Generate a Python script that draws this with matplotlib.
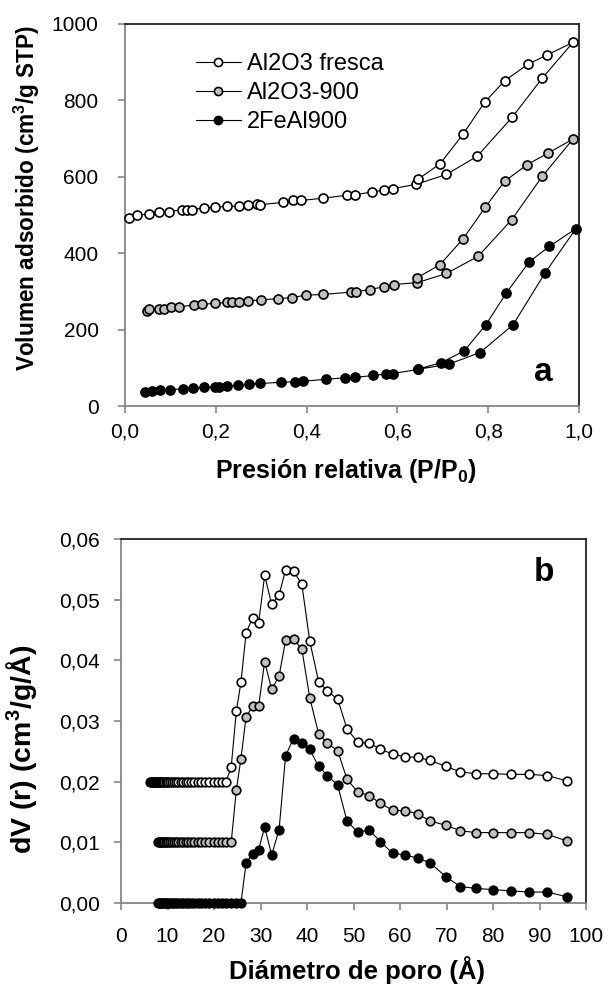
import numpy as np
import matplotlib
matplotlib.use('Agg')
import matplotlib.pyplot as plt
from matplotlib.ticker import FuncFormatter

plt.rcParams['font.family'] = ['Liberation Sans', 'DejaVu Sans']
plt.rcParams['mathtext.fontset'] = 'custom'
plt.rcParams['mathtext.rm'] = 'Liberation Sans'
plt.rcParams['mathtext.bf'] = 'Liberation Sans:bold'

# --- isotherms (a): adsorption branch followed by desorption branch ---
p_fresca = [0.009, 0.026, 0.053, 0.075, 0.098, 0.126, 0.137, 0.148, 0.174, 0.198,
            0.224, 0.251, 0.272, 0.291, 0.297, 0.349, 0.371, 0.388, 0.437, 0.490,
            0.506, 0.543, 0.570, 0.590, 0.640, 0.708, 0.776, 0.853, 0.919, 0.987,
            0.930, 0.888, 0.836, 0.792, 0.745, 0.694, 0.646]
v_fresca = [492, 499, 503, 507, 509, 514, 513, 514, 519, 520,
            523, 523, 527, 529, 527, 533, 538, 538, 544, 552,
            553, 560, 565, 569, 580, 606, 654, 756, 858, 952,
            919, 895, 851, 795, 712, 634, 594]

p_900 = [0.049, 0.053, 0.075, 0.086, 0.101, 0.120, 0.152, 0.170, 0.198, 0.225,
         0.235, 0.251, 0.272, 0.299, 0.338, 0.367, 0.398, 0.436, 0.497, 0.509,
         0.539, 0.570, 0.593, 0.644, 0.708, 0.778, 0.852, 0.919, 0.987,
         0.932, 0.886, 0.836, 0.794, 0.745, 0.694, 0.644]
v_900 = [249, 253, 255, 255, 258, 260, 264, 266, 269, 271,
         271, 272, 275, 278, 281, 284, 290, 292, 298, 299,
         305, 312, 318, 323, 347, 392, 488, 601, 699,
         662, 632, 588, 521, 438, 370, 336]

p_fe = [0.044, 0.059, 0.077, 0.099, 0.128, 0.150, 0.174, 0.198, 0.206, 0.224,
        0.250, 0.274, 0.297, 0.343, 0.374, 0.393, 0.443, 0.485, 0.507, 0.547,
        0.576, 0.590, 0.646, 0.714, 0.782, 0.855, 0.925, 0.993,
        0.935, 0.890, 0.840, 0.795, 0.747, 0.695, 0.646]
v_fe = [36, 39, 41, 43, 45, 46, 49, 50, 50, 52,
        54, 57, 59, 62, 64, 65, 70, 74, 75, 80,
        84, 85, 96, 110, 140, 213, 348, 464,
        418, 377, 296, 213, 144, 113, 97]

# --- pore size distribution (b) ---
nan = np.nan
diam = [6.2, 6.4, 6.6, 6.8, 7.0, 7.2, 7.4, 7.6, 7.8, 8.0,
        8.2, 8.4, 8.6, 8.8, 9.0, 9.3, 9.6, 9.9, 10.2, 10.6,
        11.0, 11.4, 11.8, 12.3, 12.8, 13.3, 13.9, 14.5, 15.1, 15.8,
        16.5, 17.3, 18.1, 19.0, 19.9, 20.8, 21.7, 22.6,
        23.7, 24.8, 25.8, 26.9, 28.3, 29.6, 30.9, 32.4, 34.0, 35.4,
        37.1, 38.9, 40.6, 42.5, 44.4, 46.6, 48.6, 50.9, 53.4, 55.8,
        58.4, 61.1, 63.8, 66.5, 69.9, 73.0, 76.4, 80.0, 83.8, 87.7,
        91.7, 96.0]
dv_fresca = [0.020, 0.020, 0.020, 0.020, 0.020, 0.020, 0.020, 0.020, 0.020, 0.020,
             0.020, 0.020, 0.020, 0.020, 0.020, 0.020, 0.020, 0.020, 0.020, 0.020,
             0.020, 0.020, 0.020, 0.020, 0.020, 0.020, 0.020, 0.020, 0.020, 0.020,
             0.020, 0.020, 0.020, 0.020, 0.020, 0.020, 0.020, 0.020,
             0.0224, 0.0316, 0.0364, 0.0445, 0.0470, 0.0462, 0.0540, 0.0492, 0.0508, 0.0549,
             0.0547, 0.0525, 0.0431, 0.0365, 0.0349, 0.0336, 0.0287, 0.0265, 0.0263, 0.0254,
             0.0245, 0.0241, 0.0240, 0.0235, 0.0225, 0.0216, 0.0213, 0.0213, 0.0212, 0.0212,
             0.0210, 0.0201]
dv_900 = [nan, nan, nan, nan, nan, nan, nan, nan, nan, 0.010,
          0.010, 0.010, 0.010, 0.010, 0.010, 0.010, 0.010, 0.010, 0.010, 0.010,
          0.010, 0.010, 0.010, 0.010, 0.010, 0.010, 0.010, 0.010, 0.010, 0.010,
          0.010, 0.010, 0.010, 0.010, 0.010, 0.010, 0.010, 0.010,
          0.010, 0.0186, 0.0238, 0.0307, 0.0324, 0.0324, 0.0398, 0.0352, 0.0374, 0.0433,
          0.0435, 0.0418, 0.0338, 0.0279, 0.0263, 0.0251, 0.0204, 0.0183, 0.0177, 0.0164,
          0.0153, 0.0152, 0.0147, 0.0135, 0.0128, 0.0119, 0.0116, 0.0116, 0.0116, 0.0116,
          0.0113, 0.0102]
dv_fe = [nan, nan, nan, nan, nan, nan, nan, nan, nan, 0.0,
         0.0, 0.0, 0.0, 0.0, 0.0, 0.0, 0.0, 0.0, 0.0, 0.0,
         0.0, 0.0, 0.0, 0.0, 0.0, 0.0, 0.0, 0.0, 0.0, 0.0,
         0.0, 0.0, 0.0, 0.0, 0.0, 0.0, 0.0, 0.0,
         0.0, 0.0, 0.0, 0.0066, 0.0081, 0.0088, 0.0125, 0.0079, 0.0121, 0.0243,
         0.0271, 0.0264, 0.0253, 0.0225, 0.0210, 0.0194, 0.0135, 0.0117, 0.0120, 0.0101,
         0.0082, 0.0079, 0.0074, 0.0066, 0.0043, 0.0027, 0.0024, 0.0022, 0.0020, 0.0018,
         0.0018, 0.0010]

labels = ['Al2O3 fresca', 'Al2O3-900', '2FeAl900']
fills = ['white', '#c0c0c0', 'black']

axis_gray = '#868686'


def style_axes(ax, xpad, ypad):
    for side in ['left', 'bottom']:
        ax.spines[side].set_color(axis_gray)
        ax.spines[side].set_linewidth(1.3)
    for side in ['top', 'right']:
        ax.spines[side].set_color('#222222')
        ax.spines[side].set_linewidth(1.3)
    ax.tick_params(direction='out', length=5, width=1.2, color=axis_gray,
                   labelsize=15, labelcolor='black')
    ax.tick_params(axis='x', pad=xpad)
    ax.tick_params(axis='y', pad=ypad)


fig = plt.figure(figsize=(6.05, 9.86), dpi=100)

# ---------- panel a ----------
ax1 = fig.add_axes([0.2066, 0.5882, 0.7504, 0.3875])
series_a = [(p_fresca, v_fresca), (p_900, v_900), (p_fe, v_fe)]
for (p, v), lab, fc in zip(series_a, labels, fills):
    ax1.plot(p, v, '-', color='black', lw=0.8, marker='o', ms=6.5,
             mfc=fc, mec='black', mew=1.2, label=lab, clip_on=False, zorder=3)
ax1.set_xlim(0, 1)
ax1.set_ylim(0, 1000)
ax1.set_xticks([0, 0.2, 0.4, 0.6, 0.8, 1.0])
ax1.set_yticks([0, 200, 400, 600, 800, 1000])
ax1.xaxis.set_major_formatter(FuncFormatter(lambda x, pos: '{:.1f}'.format(x).replace('.', ',')))
style_axes(ax1, 7, 14)
ax1.set_xlabel(r'Presión relativa (P/P$_\mathbf{0}$)', fontsize=18, fontweight='bold')
ax1.xaxis.set_label_coords(0.487, -0.133)
ax1.set_ylabel(r'Volumen adsorbido (cm$^\mathbf{3}$/g STP)', fontsize=16.3, fontweight='bold')
ax1.yaxis.set_label_coords(-0.183, 0.545)
ax1.text(0.921, 0.089, 'a', transform=ax1.transAxes, fontsize=24, fontweight='bold',
         ha='center', va='center')
ax1.legend(loc='upper left', bbox_to_anchor=(0.13, 0.955), frameon=False, fontsize=17,
           numpoints=1, handlelength=1.9, handletextpad=0.25, labelspacing=0.3,
           borderpad=0, markerscale=0.9)

# ---------- panel b ----------
ax2 = fig.add_axes([0.2, 0.0842, 0.7686, 0.3692])
series_b = [dv_fresca, dv_900, dv_fe]
for dv, fc in zip(series_b, fills):
    ax2.plot(diam, dv, '-', color='black', lw=0.8, marker='o', ms=6.2,
             mfc=fc, mec='black', mew=1.2, clip_on=False, zorder=3)
ax2.set_xlim(0, 100)
ax2.set_ylim(0, 0.06)
ax2.set_xticks(np.arange(0, 101, 10))
ax2.set_yticks([0, 0.01, 0.02, 0.03, 0.04, 0.05, 0.06])
ax2.yaxis.set_major_formatter(FuncFormatter(lambda y, pos: '{:.2f}'.format(y).replace('.', ',')))
style_axes(ax2, 12, 10)
ax2.set_xlabel('Diámetro de poro (Å)', fontsize=18.5, fontweight='bold')
ax2.xaxis.set_label_coords(0.508, -0.146)
ax2.set_ylabel(r'dV (r) (cm$^\mathbf{3}$/g/Å)', fontsize=20.5, fontweight='bold')
ax2.yaxis.set_label_coords(-0.174, 0.423)
ax2.text(0.91, 0.909, 'b', transform=ax2.transAxes, fontsize=24, fontweight='bold',
         ha='center', va='center')

fig.savefig('out.png', dpi=100)
